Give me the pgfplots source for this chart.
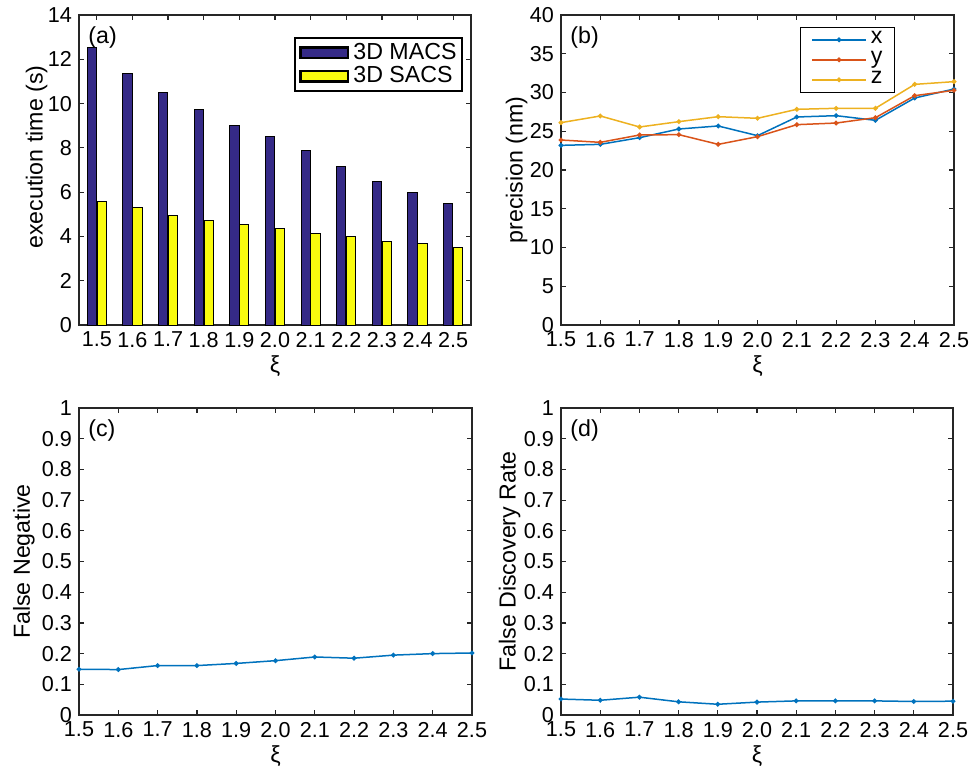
\documentclass[border=0pt]{standalone}
\usepackage{fontspec}
\setmainfont{Liberation Sans}
\usepackage{pgfplots}
\pgfplotsset{compat=1.18}
\definecolor{macs}{RGB}{53,42,135}
\definecolor{sacs}{RGB}{249,251,14}
\definecolor{mx}{RGB}{0,114,189}
\definecolor{my}{RGB}{217,83,25}
\definecolor{mz}{RGB}{237,177,32}
\definecolor{axgray}{RGB}{38,38,38}
\newcommand{\labfont}{\fontsize{11.6}{13}\selectfont}
\pgfplotsset{
  myaxis/.style={
    scale only axis, anchor=south west,
    axis line style={axgray, line width=0.6pt},
    every tick/.style={axgray, line width=0.6pt},
    major tick length=2.5pt,
    tick align=inside,
    /pgf/number format/assume math mode=true,
    tick label style={font=\fontsize{10.8}{12}\selectfont, text=black},
    xticklabel style={inner xsep=0pt},
    xlabel={ξ},
    every axis x label/.style={at={(axis description cs:0.5,-0.133)}, anchor=center, font=\labfont, text=black},
    every axis y label/.style={rotate=90, anchor=center, font=\labfont, text=black},
    clip=false,
  },
  linexi/.style={
    xmin=1.5, xmax=2.5,
    xtick={1.5,1.6,1.7,1.8,1.9,2.0,2.1,2.2,2.3,2.4,2.5},
    xticklabel style={/pgf/number format/.cd, fixed, fixed zerofill, precision=1},
  },
  linelegend/.style={
    legend image code/.code={
      \draw[##1, mark repeat=2, mark phase=2] plot coordinates {(0pt,0pt) (13.5pt,0pt) (27pt,0pt)};
    }
  },
  barlegend/.style={
    legend image code/.code={\draw[##1, line width=1.3pt] (0pt,-2.6pt) rectangle (23.7pt,2.6pt);}
  },
}
\newcommand{\pl}[1]{\node[anchor=north west, inner sep=0pt, font=\fontsize{11.6}{13}\selectfont] at (rel axis cs:0,1) [xshift=4.5pt, yshift=-5.5pt] {#1};}
\begin{document}
\begin{tikzpicture}
\useasboundingbox (0,0) rectangle (487.5pt,383.5pt);
% (a)
\begin{axis}[myaxis, at={(39.5pt,221pt)}, width=196pt, height=155pt,
  xmin=0.5, xmax=11.5, ymin=0, ymax=14,
  xtick={1,2,3,4,5,6,7,8,9,10,11},
  xticklabels={1.5,1.6,1.7,1.8,1.9,2.0,2.1,2.2,2.3,2.4,2.5},
  ytick={0,2,4,6,8,10,12,14},
  ylabel={execution time (s)},
  ylabel style={at={(axis description cs:-0.108,0.542)}},
  legend style={at={(0.979,0.929)}, anchor=north east, draw=black, line width=0.85pt,
    font=\fontsize{11.6}{13}\selectfont, inner xsep=2.2pt, inner ysep=1.6pt, row sep=0pt,
    column sep=1.5pt,
    nodes={inner sep=0.5pt, text height=8.5pt, text depth=2.2pt},
    cells={anchor=west}},
  legend cell align=left,
]
\addplot[ybar, bar width=0.26, bar shift=-0.14, fill=macs, draw=black, line width=0.5pt, barlegend]
  coordinates {(1,12.52) (2,11.37) (3,10.51) (4,9.71) (5,9.00) (6,8.51) (7,7.86) (8,7.14) (9,6.50) (10,5.99) (11,5.48)};
\addlegendentry{3D MACS}
\addplot[ybar, bar width=0.26, bar shift=0.14, fill=sacs, draw=black, line width=0.5pt, barlegend]
  coordinates {(1,5.60) (2,5.31) (3,4.95) (4,4.71) (5,4.55) (6,4.35) (7,4.14) (8,4.00) (9,3.78) (10,3.67) (11,3.51)};
\addlegendentry{3D SACS}
\pl{(a)}
\end{axis}
% (b)
\begin{axis}[myaxis, linexi, at={(280.5pt,221pt)}, width=196.5pt, height=155pt,
  ymin=0, ymax=40, ytick={0,5,10,15,20,25,30,35,40},
  ylabel={precision (nm)},
  ylabel style={at={(axis description cs:-0.113,0.5)}},
  legend style={at={(0.850,0.962)}, anchor=north east, draw=black, line width=0.6pt,
    font=\fontsize{11.6}{13}\selectfont, inner xsep=5.5pt, inner ysep=1.2pt, row sep=0pt,
    column sep=1.5pt,
    nodes={inner sep=0.5pt, text height=6.5pt, text depth=2.5pt},
    cells={anchor=west}},
  legend cell align=left,
  linelegend,
]
\addplot[mx, line width=0.75pt, mark=*, mark size=0.8pt] coordinates {
  (1.5,23.18) (1.6,23.31) (1.7,24.17) (1.8,25.29) (1.9,25.68) (2.0,24.43) (2.1,26.84) (2.2,27.01) (2.3,26.41) (2.4,29.29) (2.5,30.45)};
\addlegendentry{x}
\addplot[my, line width=0.75pt, mark=*, mark size=0.8pt] coordinates {
  (1.5,23.87) (1.6,23.57) (1.7,24.52) (1.8,24.56) (1.9,23.31) (2.0,24.30) (2.1,25.85) (2.2,26.06) (2.3,26.75) (2.4,29.59) (2.5,30.28)};
\addlegendentry{y}
\addplot[mz, line width=0.75pt, mark=*, mark size=0.8pt] coordinates {
  (1.5,26.11) (1.6,26.97) (1.7,25.55) (1.8,26.24) (1.9,26.88) (2.0,26.67) (2.1,27.83) (2.2,27.96) (2.3,27.96) (2.4,31.05) (2.5,31.40)};
\addlegendentry{z}
\pl{(b)}
\end{axis}
% (c)
\begin{axis}[myaxis, linexi, at={(39.5pt,26pt)}, width=196.5pt, height=153.5pt,
  ymin=0, ymax=1, ytick={0,0.1,0.2,0.3,0.4,0.5,0.6,0.7,0.8,0.9,1},
  ylabel={False Negative},
  ylabel style={at={(axis description cs:-0.140,0.5)}},
]
\addplot[mx, line width=0.75pt, mark=*, mark size=0.8pt] coordinates {
  (1.5,0.149) (1.6,0.148) (1.7,0.161) (1.8,0.161) (1.9,0.168) (2.0,0.177) (2.1,0.189) (2.2,0.185) (2.3,0.195) (2.4,0.200) (2.5,0.202)};
\pl{(c)}
\end{axis}
% (d)
\begin{axis}[myaxis, linexi, at={(280.5pt,26pt)}, width=196pt, height=153.5pt,
  ymin=0, ymax=1, ytick={0,0.1,0.2,0.3,0.4,0.5,0.6,0.7,0.8,0.9,1},
  ylabel={False Discovery Rate},
  ylabel style={at={(axis description cs:-0.131,0.5)}},
]
\addplot[mx, line width=0.75pt, mark=*, mark size=0.8pt] coordinates {
  (1.5,0.052) (1.6,0.048) (1.7,0.058) (1.8,0.043) (1.9,0.035) (2.0,0.042) (2.1,0.046) (2.2,0.046) (2.3,0.046) (2.4,0.044) (2.5,0.045)};
\pl{(d)}
\end{axis}
\end{tikzpicture}
\end{document}
